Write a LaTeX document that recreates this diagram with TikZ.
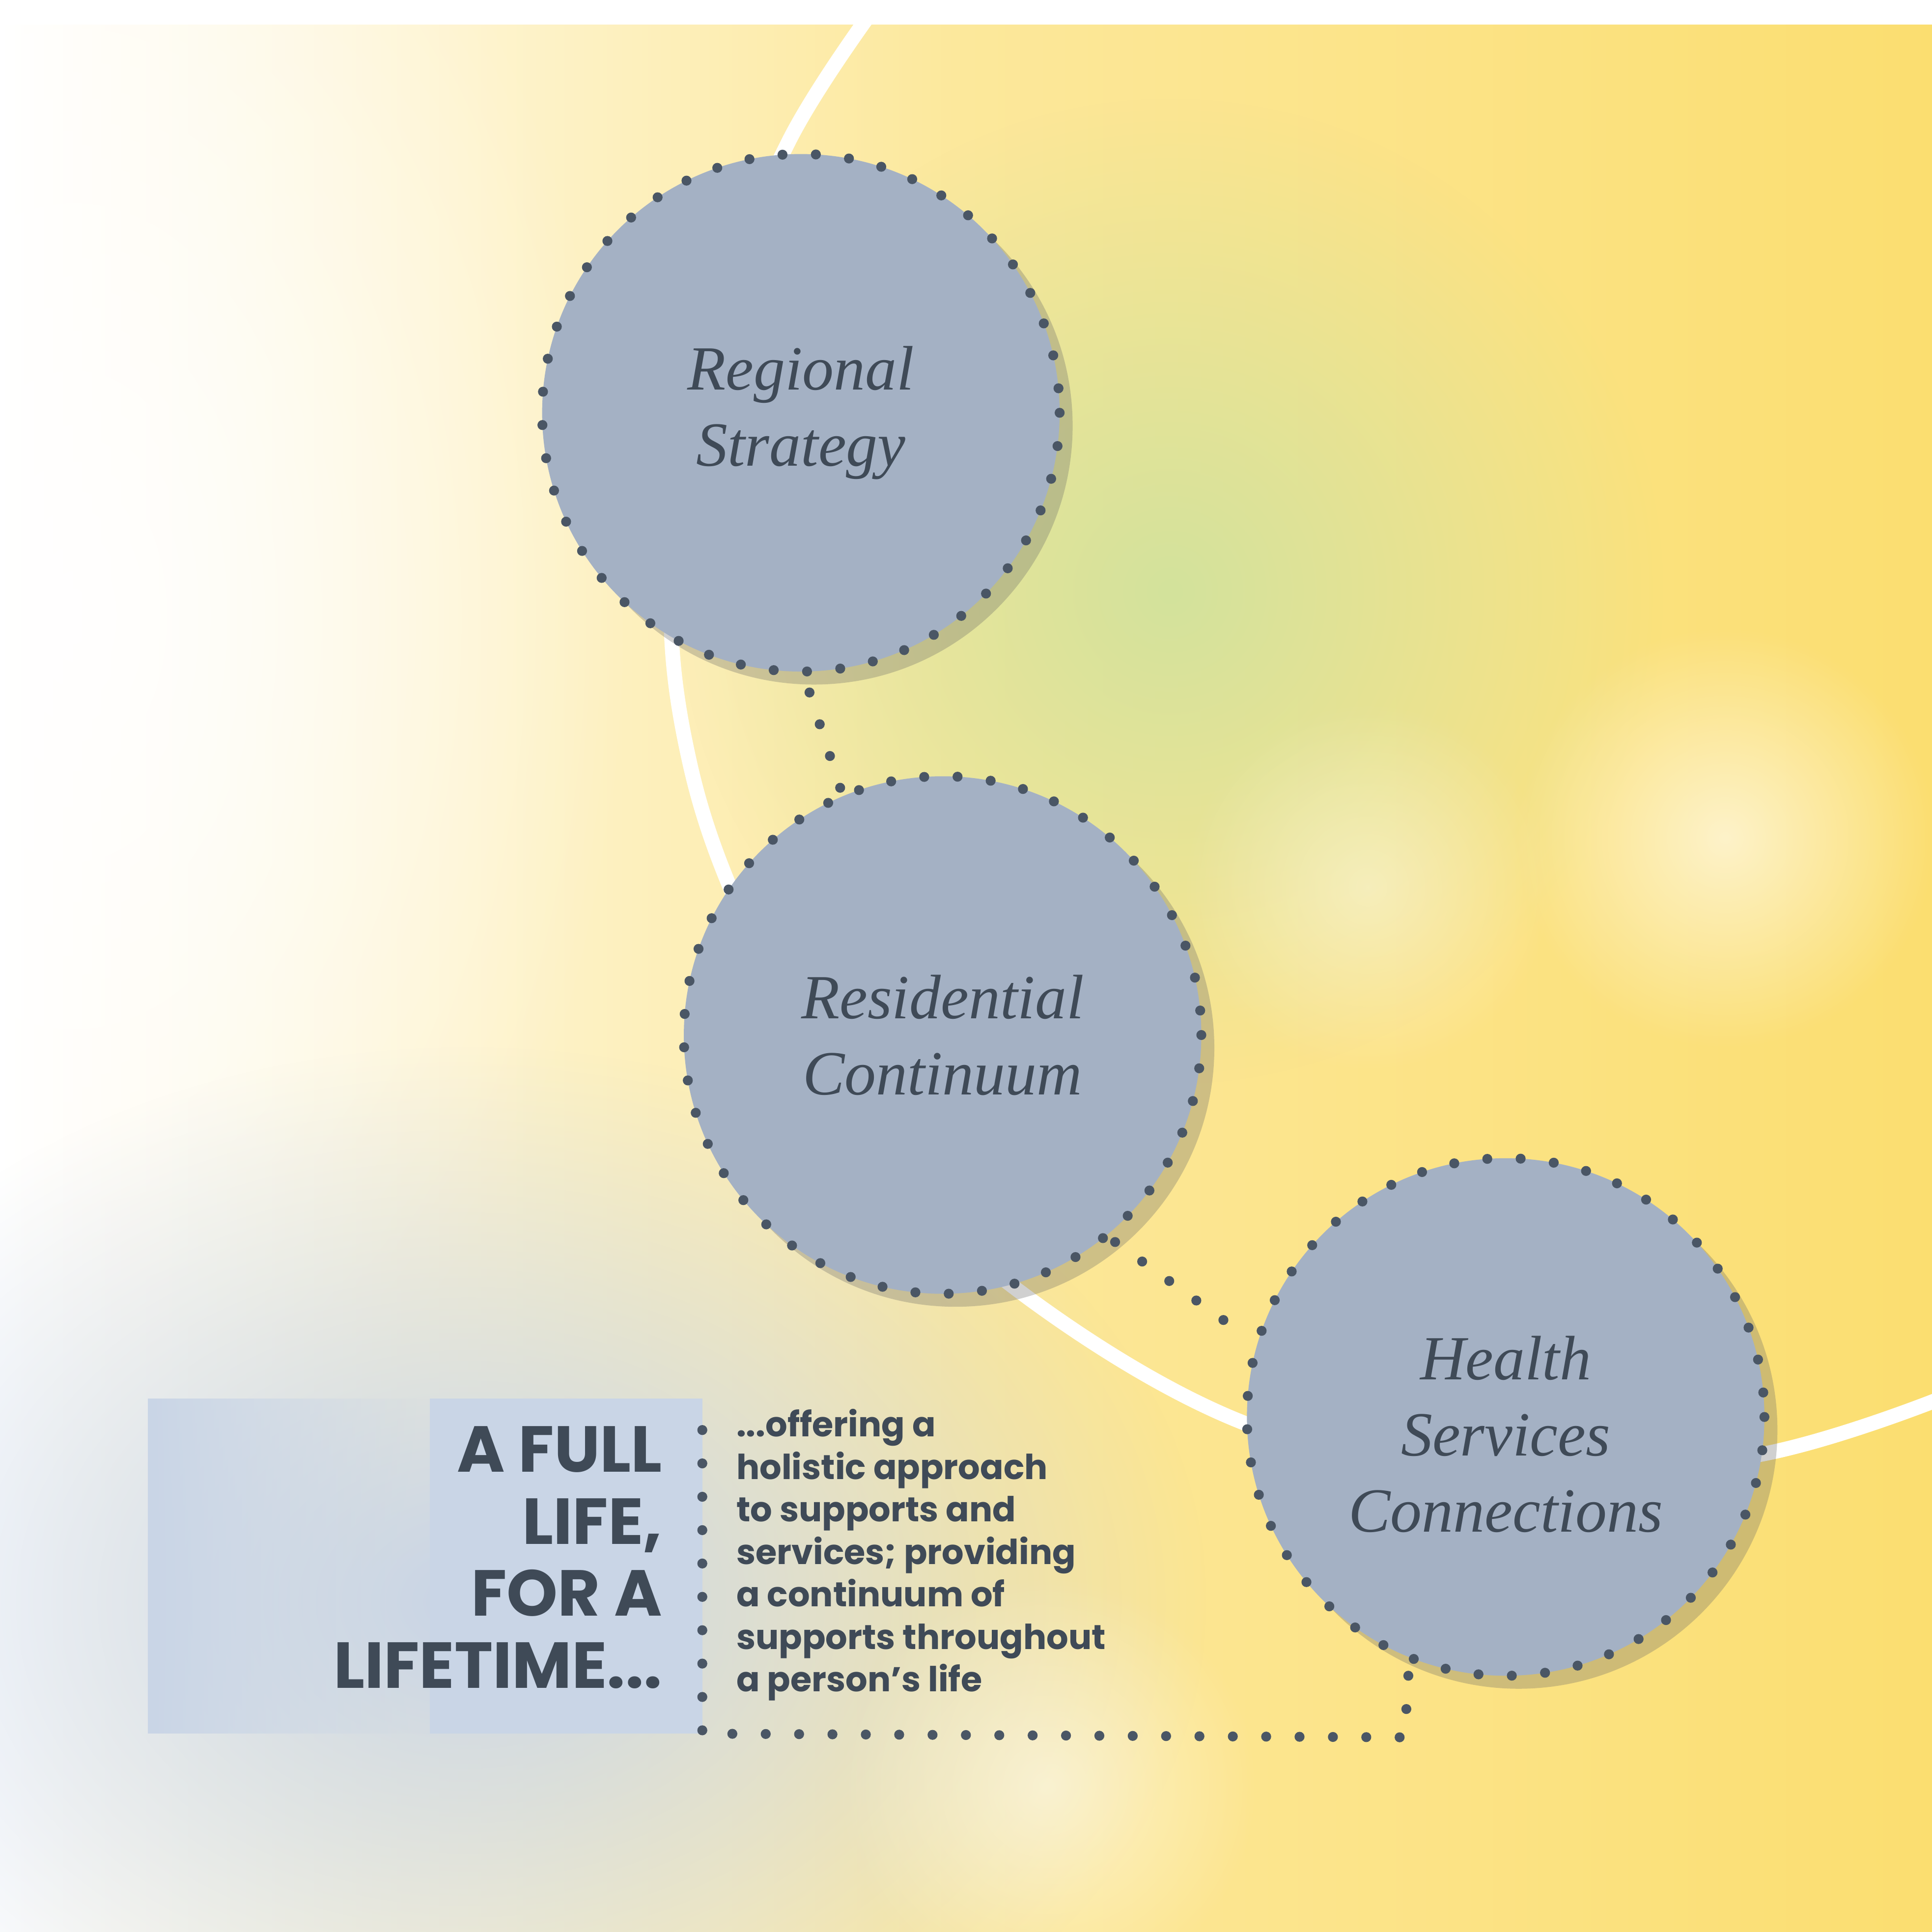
\documentclass[tikz,border=0pt]{standalone}
\usepackage{fontspec}
\setmainfont{Liberation Serif}
\newfontfamily\poppins{Poppins}[UprightFont=* Bold]
\usetikzlibrary{shadows,fadings}
\tikzfading[name=myfade,inner color=transparent!0,outer color=transparent!100]
\definecolor{cfill}{HTML}{A4B1C4}
\definecolor{dotc}{HTML}{4A5665}
\definecolor{txt}{HTML}{3F4A57}
\definecolor{yel}{HTML}{FBDE70}
\definecolor{grn}{HTML}{D3E29C}
\definecolor{blu}{HTML}{C9D5E6}
\tikzset{
 dots/.style={draw=dotc,line width=2.3pt,line cap=round,dash pattern=on 0pt off 7.7pt},
 bub/.style={circle,minimum size=420*0.01cm,fill=cfill,inner sep=0pt,
   drop shadow={shadow xshift=3pt,shadow yshift=-3pt,opacity=.3,fill=black!60}},
 btxt/.style={font=\fontsize{14.5}{17.6}\selectfont\itshape,text=txt,align=center},
}
\begin{document}
\begin{tikzpicture}[x=0.01cm,y=-0.01cm]
\useasboundingbox (0,0) rectangle (1568,1568);
% background
\shade[left color=white,right color=yel,middle color=yel!70] (0,0) rectangle (1568,1568);
\fill[grn,path fading=myfade] (950,480) circle (400);
\fill[white,path fading=myfade,opacity=.9] (60,500) ellipse (450 and 750);
\fill[blu,path fading=myfade] (380,1300) ellipse (600 and 450);
\fill[white,path fading=myfade,opacity=.6] (1400,680) circle (170);
\fill[white,path fading=myfade,opacity=.4] (1110,720) circle (150);
\fill[white,path fading=myfade,opacity=.5] (850,1450) circle (170);
\fill[white] (0,0) rectangle (1568,20);
% white arc
\draw[white,line width=3.4pt] plot[smooth,tension=0.6] coordinates{(718,-5)(640,115)(575,280)(545,470)(560,620)(610,760)(700,925)(830,1050)(1010,1155)(1200,1195)(1420,1182)(1575,1135)};
% text box
\fill[blu,path fading=east] (120,1135) rectangle (350,1407);
\fill[blu] (349,1135) rectangle (570,1407);
% bubbles
\node[bub] (rs) at (650,335) {};
\node[bub] (rc) at (765,840) {};
\node[bub] (hs) at (1222,1150) {};
\foreach \n in {rs,rc,hs}{\draw[dots] (\n) circle (210);}
\node[btxt] at (rs) {Regional\\Strategy};
\node[btxt] at (rc) {Residential\\Continuum};
\node[btxt] at ([yshift=-4pt]hs) {Health\\Services\\Connections};
% connectors
\coordinate (a1) at (657,562); \coordinate (a2) at (684,646);
\draw[dots] (a1) -- (a2);
\coordinate (b1) at (905,1008); \coordinate (b2) at (1005,1080);
\draw[dots] (b1) -- (b2);
\coordinate (c1) at (1143,1360); \coordinate (c2) at (1140,1410);
\coordinate (c3) at (570,1407); \coordinate (c4) at (570,1135);
\draw[dots] (c1) -- (c2) -- (c3) -- (c4);
% texts
\node[anchor=north east,align=right,text=txt,inner sep=0pt,font=\poppins\fontsize{15}{16.6}\selectfont] (big) at (538,1157) {A FULL\\LIFE,\\FOR A\\LIFETIME...};
\node[anchor=north west,align=left,text=txt,inner sep=0pt,font=\poppins\fontsize{7.95}{9.8}\selectfont] (small) at (597,1143) {...offering a\\holistic approach\\to supports and\\services; providing\\a continuum of\\supports throughout\\a person’s life};
\end{tikzpicture}
\end{document}
